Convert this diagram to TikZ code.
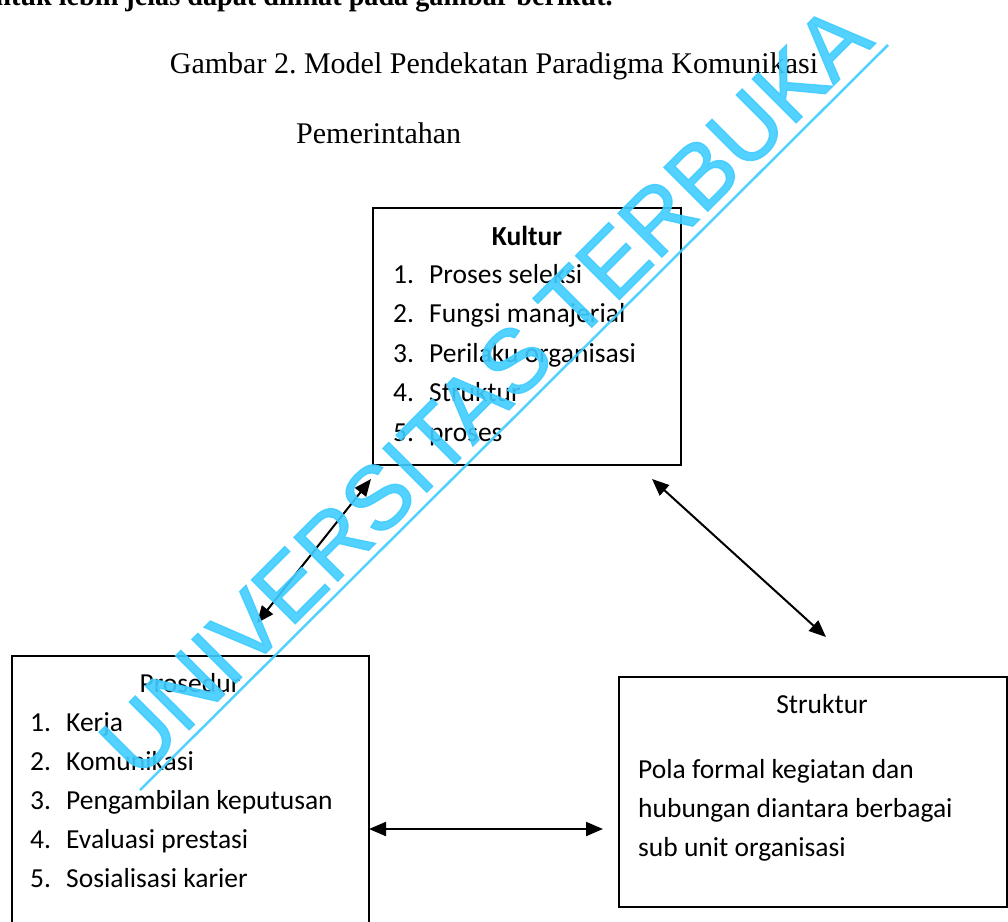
\documentclass[tikz,border=0pt]{standalone}
\usepackage{fontspec}
\setmainfont{Liberation Serif}
\newfontfamily\calibrifont{Carlito}
\newfontfamily\wmfont[FakeBold=1.5]{Liberation Sans}
\usetikzlibrary{arrows.meta}
\definecolor{wmcyan}{RGB}{64,204,255}
\frenchspacing
\tikzset{
  boxshape/.style={draw, line width=1.8pt, inner sep=0pt, fill=none},
  serifbig/.style={inner sep=0pt, font=\fontsize{30}{36}\selectfont},
  cal/.style={inner sep=0pt, anchor=base west, font=\calibrifont\fontsize{27.5}{33}\selectfont},
  calc/.style={inner sep=0pt, anchor=base, font=\calibrifont\fontsize{27.5}{33}\selectfont},
  link/.style={line width=2pt, {Triangle[length=17pt,width=14pt]}-{Triangle[length=17pt,width=14pt]}},
  wmtext/.style={inner sep=0pt, text=wmcyan, opacity=0.9, font=\wmfont\fontsize{90}{100}\selectfont},
}
\begin{document}
\begin{tikzpicture}[x=1pt,y=-1pt]
\useasboundingbox (0,0) rectangle (1008,921);
\clip (0,0) rectangle (1008,921);

% partially visible preceding line
\node[serifbig, anchor=base east, xscale=0.94, font=\bfseries\fontsize{30}{36}\selectfont] (prev) at (613,5) {untuk lebih jelas dapat dilihat pada gambar berikut.};

% title
\node[serifbig, anchor=base] (title) at (494,73) {Gambar 2. Model Pendekatan Paradigma Komunikasi};
\node[serifbig, anchor=base west] (title2) at (296,143) {Pemerintahan};

% boxes
\node[boxshape, minimum width=308pt, minimum height=257pt] (kultur) at (527,336.5) {};
\node[boxshape, minimum width=357pt, minimum height=300pt] (prosedur) at (190.5,806) {};
\node[boxshape, minimum width=388pt, minimum height=230pt] (struktur) at (813,792) {};

% Kultur text
\node[calc, font=\calibrifont\bfseries\fontsize{27.5}{33}\selectfont] (kt) at (527,245) {Kultur};
\node[cal] (k1n) at (393,283) {1.}; \node[cal] (k1) at (429,283) {Proses seleksi};
\node[cal] (k2n) at (393,322.5) {2.}; \node[cal] (k2) at (429,322.5) {Fungsi manajerial};
\node[cal] (k3n) at (393,362) {3.}; \node[cal] (k3) at (429,362) {Perilaku organisasi};
\node[cal] (k4n) at (393,401.5) {4.}; \node[cal] (k4) at (429,401.5) {Struktur};
\node[cal] (k5n) at (393,441) {5.}; \node[cal] (k5) at (429,441) {proses};

% Prosedur text
\node[calc] (pt) at (190,692) {Prosedur};
\node[cal] (p1n) at (30,731) {1.}; \node[cal] (p1) at (66,731) {Kerja};
\node[cal] (p2n) at (30,770) {2.}; \node[cal] (p2) at (66,770) {Komunikasi};
\node[cal] (p3n) at (30,809) {3.}; \node[cal] (p3) at (66,809) {Pengambilan keputusan};
\node[cal] (p4n) at (30,848) {4.}; \node[cal] (p4) at (66,848) {Evaluasi prestasi};
\node[cal] (p5n) at (30,887) {5.}; \node[cal] (p5) at (66,887) {Sosialisasi karier};

% Struktur text
\node[calc] (st) at (822,713) {Struktur};
\node[cal] (s1) at (638,778) {Pola formal kegiatan dan};
\node[cal] (s2) at (638,817) {hubungan diantara berbagai};
\node[cal] (s3) at (638,856) {sub unit organisasi};

% connector end points
\coordinate (kA) at (371,479);
\coordinate (pA) at (257,623);
\coordinate (kB) at (652,479);
\coordinate (sB) at (826,637);
\coordinate (pC) at (369,829);
\coordinate (sC) at (603,829);
\draw[link] (kA) -- (pA);
\draw[link] (kB) -- (sB);
\draw[link] (pC) -- (sC);

% watermark
\node[wmtext, rotate=45, anchor=base] (wm) at (507,412) {UNIVERSITAS TERBUKA};
\coordinate (wmL) at (140,790);
\coordinate (wmR) at (888,45);
\draw[wmcyan, opacity=0.9, line width=2.5pt] (wmL) -- (wmR);
\end{tikzpicture}
\end{document}
